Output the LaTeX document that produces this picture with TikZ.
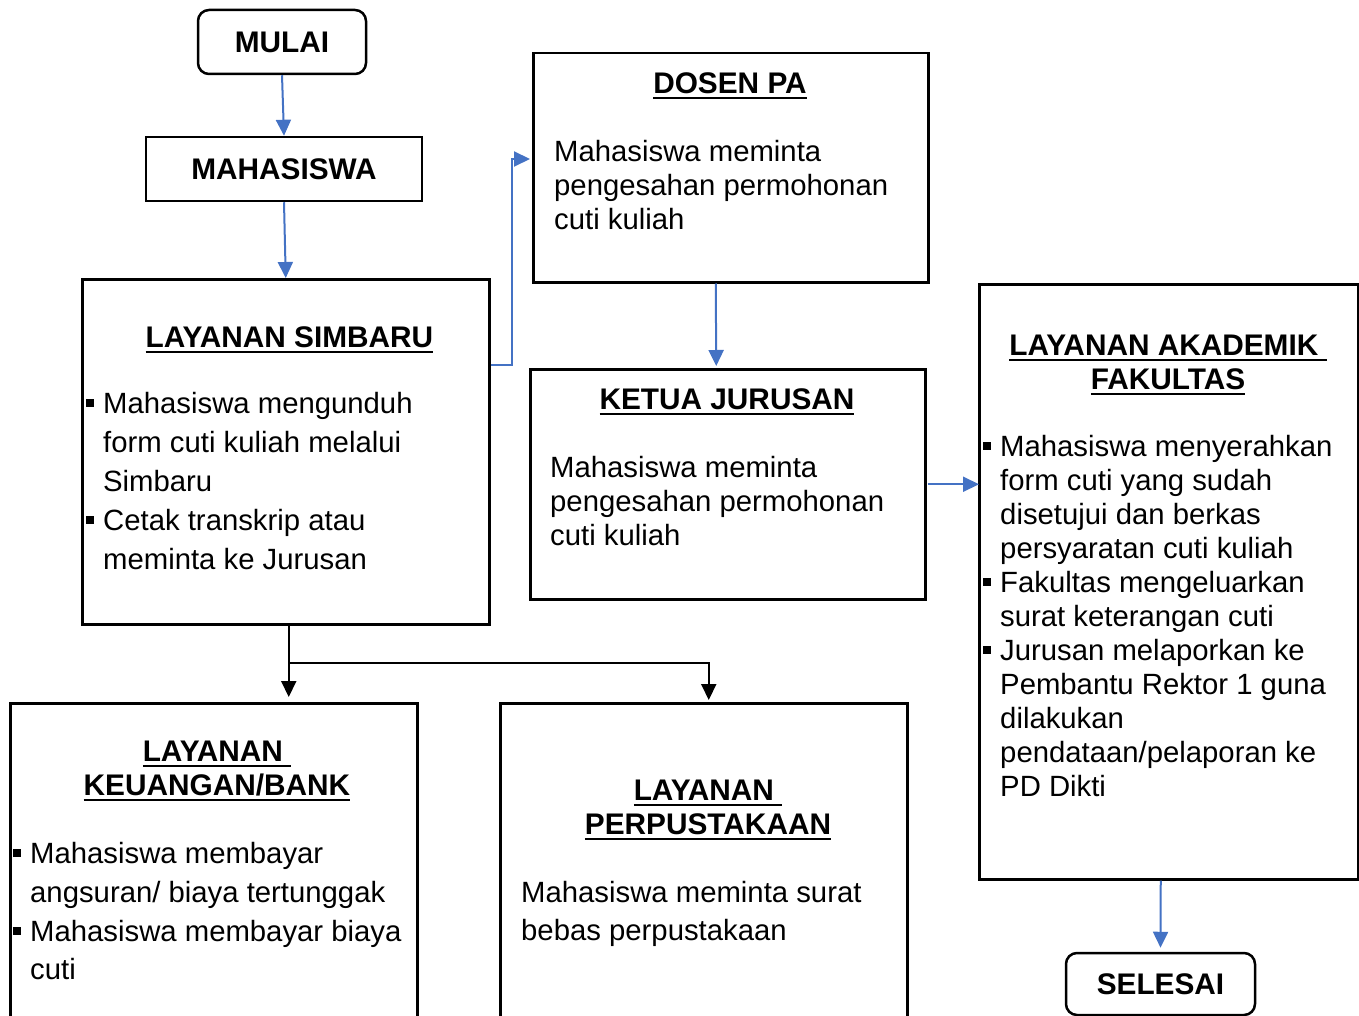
\documentclass[tikz,border=0pt]{standalone}
\usepackage{fontspec}
\setmainfont{Liberation Sans}
\usetikzlibrary{arrows.meta,calc}
\definecolor{arrowblue}{RGB}{68,114,196}
\newcommand\fsz{\fontsize{29.3}{34}\selectfont}
\newcommand\fszt{\fontsize{29.8}{34}\selectfont}
\newcommand\fszw{\fontsize{29.3}{39}\selectfont}
\newcommand\blt{\makebox[17pt][l]{\rule[6.5pt]{8pt}{8pt}}}
\newcommand\ind{\hspace*{17pt}}
\newcommand\st{\rule{0pt}{24pt}}
\newsavebox\myulbox
\newcommand\myul[1]{\sbox\myulbox{#1}\rlap{\rule[-5.5pt]{\wd\myulbox}{2.2pt}}\usebox\myulbox}
\begin{document}
\begin{tikzpicture}[x=1pt,y=-1pt,
  box/.style={draw,line width=2.5pt,inner sep=0,anchor=north west},
  rbox/.style={draw,line width=2.5pt,inner sep=0,rounded corners=11pt,font=\fszt\bfseries},
  txt/.style={anchor=north west,inner sep=0,align=left,font=\fsz},
  ttl/.style={anchor=north,inner sep=0,align=center,font=\fszt\bfseries},
  barrow/.style={draw=arrowblue,line width=2pt,-{Triangle[length=16pt,width=15pt]},arrowblue},
  karrow/.style={draw=black,line width=2pt,-{Triangle[length=16pt,width=15pt]}}]
\useasboundingbox (0,0) rectangle (1359,1016);
\clip (0,0) rectangle (1359,1016);

% boxes
\node[rbox,minimum width=168pt,minimum height=64pt] (mulai) at (282,42) {MULAI};
\node[box,anchor=center,minimum width=276pt,minimum height=64pt,font=\fszt\bfseries] (mhs) at (284,169) {MAHASISWA};
\node[box,minimum width=407pt,minimum height=345pt] (simb) at (81,278) {};
\node[box,minimum width=395pt,minimum height=229pt] (dosen) at (532,52) {};
\node[box,minimum width=395pt,minimum height=230pt] (ketua) at (529,368) {};
\node[box,minimum width=379pt,minimum height=595pt] (akad) at (978,283) {};
\node[box,minimum width=407pt,minimum height=340pt] (keu) at (9,702) {};
\node[box,minimum width=407pt,minimum height=340pt] (perp) at (499,702) {};
\node[rbox,minimum width=189pt,minimum height=62pt] (sel) at (1160.5,984) {SELESAI};

% titles
\node[ttl] (tsimb) at (289.5,323.4) {\st\myul{LAYANAN SIMBARU}};
\node[ttl] (tdosen) at (730,69.4) {\st\myul{DOSEN PA}};
\node[ttl] (tketua) at (727,385.4) {\st\myul{KETUA JURUSAN}};
\node[ttl] (takad) at (1168,331.4) {\st\myul{LAYANAN AKADEMIK\ }\\\myul{FAKULTAS}};
\node[ttl] (tkeu) at (217,737.4) {\st\myul{LAYANAN\ }\\\myul{KEUANGAN/BANK}};
\node[ttl] (tperp) at (708,776.4) {\st\myul{LAYANAN\ }\\\myul{PERPUSTAKAAN}};

% body texts
\node[txt,font=\fszw] (bsimb) at (86,389.4) {\st\blt Mahasiswa mengunduh\\\ind form cuti kuliah melalui\\\ind Simbaru\\\blt Cetak transkrip atau\\\ind meminta ke Jurusan};
\node[txt] (bdosen) at (554,137.4) {\st Mahasiswa meminta\\pengesahan permohonan\\cuti kuliah};
\node[txt] (bketua) at (550,453.4) {\st Mahasiswa meminta\\pengesahan permohonan\\cuti kuliah};
\node[txt] (bakad) at (983,432.4) {\st\blt Mahasiswa menyerahkan\\\ind form cuti yang sudah\\\ind disetujui dan berkas\\\ind persyaratan cuti kuliah\\\blt Fakultas mengeluarkan\\\ind surat keterangan cuti\\\blt Jurusan melaporkan ke\\\ind Pembantu Rektor 1 guna\\\ind dilakukan\\\ind pendataan/pelaporan ke\\\ind PD Dikti};
\node[txt,font=\fontsize{29.3}{38.7}\selectfont] (bkeu) at (13,839.4) {\st\blt Mahasiswa membayar\\\ind angsuran/ biaya tertunggak\\\blt Mahasiswa membayar biaya\\\ind cuti};
\node[txt,font=\fontsize{29.3}{38}\selectfont] (bperp) at (521,878.4) {\st Mahasiswa meminta surat\\bebas perpustakaan};

% connectors
\draw[barrow] (mulai.south) -- (mhs.north);
\draw[barrow] (mhs.south) -- (simb.north);
\draw[barrow] ([yshift=-87pt]simb.north east) -- ++(21,0) |- ([yshift=-107pt,xshift=-2pt]dosen.north west);
\draw[barrow] ([xshift=-15pt]dosen.south) -- ([xshift=-11.5pt,yshift=2pt]ketua.north);
\draw[barrow] ([xshift=1pt]ketua.east) -- ([xshift=1pt]ketua.east -| akad.west);
\draw[barrow] ([xshift=-8pt]akad.south) -- ([yshift=4pt]sel.north);
\draw[karrow] ([xshift=3pt]simb.south) -- ([xshift=75pt,yshift=5pt]keu.north);
\coordinate (br) at ([xshift=3pt,yshift=-37pt]simb.south);
\draw[karrow] (br) -| ([xshift=5pt,yshift=2pt]perp.north);
\end{tikzpicture}
\end{document}
